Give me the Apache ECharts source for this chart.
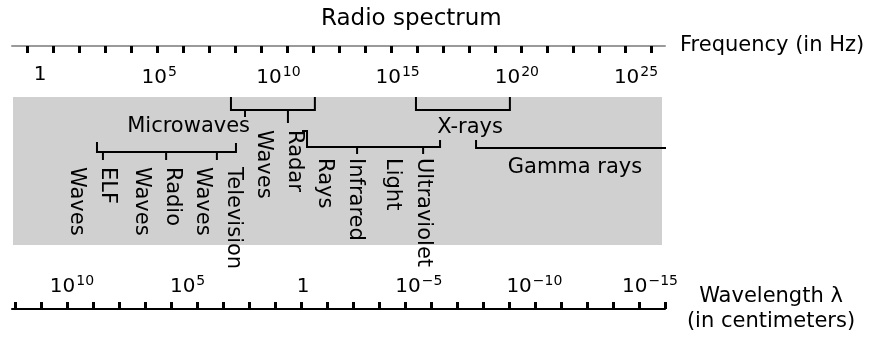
<!DOCTYPE html>
<html><head><meta charset="utf-8">
<script src="https://cdn.jsdelivr.net/npm/echarts@6/dist/echarts.min.js"></script>
<style>html,body{margin:0;padding:0;background:#fff}#c{width:874px;height:341px}</style>
</head><body><div id="c"></div>
<script>
// ---- data (frequency in decades, log10 Hz) ----
const freqExponents = [0, 5, 10, 15, 20, 25];
const waveExponents = [10, 5, 0, -5, -10, -15];
const freqTicks = [0,1,2,3,4,5,6,7,8,9,10,11,12,13,14,15,16,17,18,19,20,21,22,23,24];
const waveTicks = [0,1,2,3,4,5,6,7,8,9,10,11,12,13,14,15,16,17,18,19,20,21,22,23,24,25];
const columnLabels = ['ELF\nWaves', 'Radio\nWaves', 'Television\nWaves', 'Radar\nWaves', 'Infrared\nRays', 'Ultraviolet\nLight'];
const columnFreq = [2.16, 4.89, 7.45, 10.03, 12.60, 15.44];
const headLabels = ['Microwaves', 'X-rays', 'Gamma rays'];
const headFreq = [8.81, 18.04, 22.44];
const microwaveBand = [8.01, 11.53];
const microwaveStems = [8.60, 10.40];
const xrayBand = [15.77, 19.71];
const radioBand = [2.39, 8.22];
const radioStems = [2.64, 5.29, 7.42];
const opticalBand = [11.2, 16.78];
const opticalStems = [13.30, 16.07];
const gammaBand = [18.29, 26.26];

// ---- layout ----
const FONT = 'DejaVu Sans';
const GL = 12, GW = 653, GT = 46, GH = 263;
const freqMin = -1.1745, freqMax = 26.216;
const waveMin = -15.649, waveMax = 12.595;
const colRowY = [167, 167, 167, 130, 158, 158];
const headRowY = [127, 128, 168];
const headAlign = ['right', 'center', 'center'];

function expLabel(e) {
  if (e === 0) return '{b|1}';
  const s = e < 0 ? '\u2212' + (-e) : String(e);
  return '{b|10}{s|' + s + '}';
}
const richSup = {
  b: { fontSize: 20, color: '#000', fontFamily: FONT, verticalAlign: 'bottom' },
  s: { fontSize: 14, color: '#000', fontFamily: FONT, verticalAlign: 'bottom', padding: [0, 0, 9, 1] }
};

const lineData = [];
lineData.push({ coords: [[microwaveBand[0], 97], [microwaveBand[0], 110], [microwaveBand[1], 110], [microwaveBand[1], 97]] });
[117, 123].forEach((end, i) => lineData.push({ coords: [[microwaveStems[i], 110], [microwaveStems[i], end]] }));
lineData.push({ coords: [[xrayBand[0], 97], [xrayBand[0], 110], [xrayBand[1], 110], [xrayBand[1], 97]] });
lineData.push({ coords: [[radioBand[0], 142], [radioBand[0], 152], [radioBand[1], 152], [radioBand[1], 143]] });
radioStems.forEach(s => lineData.push({ coords: [[s, 152], [s, 160]] }));
lineData.push({ coords: [[opticalBand[0] - 0.21, 131], [opticalBand[0], 131], [opticalBand[0], 147], [opticalBand[1], 147], [opticalBand[1], 140]] });
opticalStems.forEach(s => lineData.push({ coords: [[s, 147], [s, 154]] }));
lineData.push({ coords: [[gammaBand[0], 140], [gammaBand[0], 148], [gammaBand[1], 148]] });

const labelBase = { show: true, position: 'inside', fontSize: 21, color: '#000', opacity: 1, textBorderWidth: 0, fontFamily: FONT };
const labelData = [];
columnLabels.forEach((t, i) => labelData.push({
  value: [columnFreq[i], colRowY[i]],
  label: Object.assign({}, labelBase, { formatter: t, rotate: -90, align: 'left', verticalAlign: 'middle', lineHeight: 31 })
}));
headLabels.forEach((t, i) => labelData.push({
  value: [headFreq[i], headRowY[i]],
  label: Object.assign({}, labelBase, { formatter: t, rotate: 0, align: headAlign[i], verticalAlign: 'middle' })
}));

const hidden = { show: false };
const option = {
  animation: false,
  backgroundColor: '#fff',
  textStyle: { fontFamily: FONT },
  title: {
    text: 'Radio spectrum', left: 321, top: 8, padding: 0,
    textStyle: { fontSize: 23, fontWeight: 'normal', color: '#000', fontFamily: FONT }
  },
  grid: [
    { left: GL, top: GT, width: GW, height: GH, show: false },
    { left: 13, top: 97, width: 649, height: 148, show: true, backgroundColor: '#d0d0d0', borderWidth: 0 }
  ],
  xAxis: [
    { // frequency labels
      type: 'value', gridIndex: 0, position: 'top', min: freqMin, max: freqMax,
      name: 'Frequency (in Hz)', nameLocation: 'end', nameGap: 15,
      nameTextStyle: { fontSize: 21, color: '#000', fontFamily: FONT },
      axisLine: { show: true, lineStyle: { color: '#9a9a9a', width: 2 } },
      axisTick: { show: false }, splitLine: hidden,
      axisLabel: { inside: true, margin: 19, customValues: freqExponents, formatter: expLabel, rich: richSup }
    },
    { // frequency ticks
      type: 'value', gridIndex: 0, position: 'top', min: -0.577, max: 24.54,
      axisLine: hidden, splitLine: hidden, axisLabel: hidden,
      axisTick: { show: true, inside: true, length: 7, customValues: freqTicks, lineStyle: { color: '#000', width: 3 } }
    },
    { // wavelength labels
      type: 'value', gridIndex: 0, position: 'bottom', inverse: true, min: waveMin, max: waveMax,
      axisLine: hidden, axisTick: hidden, splitLine: hidden,
      axisLabel: { inside: true, margin: 12, customValues: waveExponents, formatter: expLabel, rich: richSup }
    },
    { // wavelength ticks + line
      type: 'value', gridIndex: 0, position: 'bottom', min: -0.115, max: 25,
      name: 'Wavelength \u03bb\n(in centimeters)', nameLocation: 'end', nameGap: 106,
      nameTextStyle: { fontSize: 21, color: '#000', fontFamily: FONT, align: 'center', verticalAlign: 'middle', lineHeight: 25, padding: [10, 0, 0, 0] },
      axisLine: { show: true, lineStyle: { color: '#000', width: 2 } },
      splitLine: hidden, axisLabel: hidden,
      axisTick: { show: true, inside: true, length: 7, customValues: waveTicks, lineStyle: { color: '#000', width: 3 } }
    },
    { type: 'value', gridIndex: 1, show: false, min: 0, max: 1 }
  ],
  yAxis: [
    { type: 'value', gridIndex: 0, show: false, inverse: true, min: GT, max: GT + GH },
    { type: 'value', gridIndex: 1, show: false, min: 0, max: 1 }
  ],
  series: [
    {
      type: 'lines', coordinateSystem: 'cartesian2d', xAxisIndex: 0, yAxisIndex: 0,
      polyline: true, silent: true, z: 3,
      lineStyle: { color: '#000', width: 2, opacity: 1, curveness: 0 },
      data: lineData
    },
    {
      type: 'scatter', xAxisIndex: 0, yAxisIndex: 0, symbolSize: 1, clip: false, silent: true, z: 4,
      itemStyle: { color: 'rgba(0,0,0,0)' },
      label: labelBase,
      labelLayout: { hideOverlap: false },
      data: labelData
    }
  ]
};
const chart = echarts.init(document.getElementById('c'), null, { renderer: 'canvas' });
chart.setOption(option);
</script></body></html>
